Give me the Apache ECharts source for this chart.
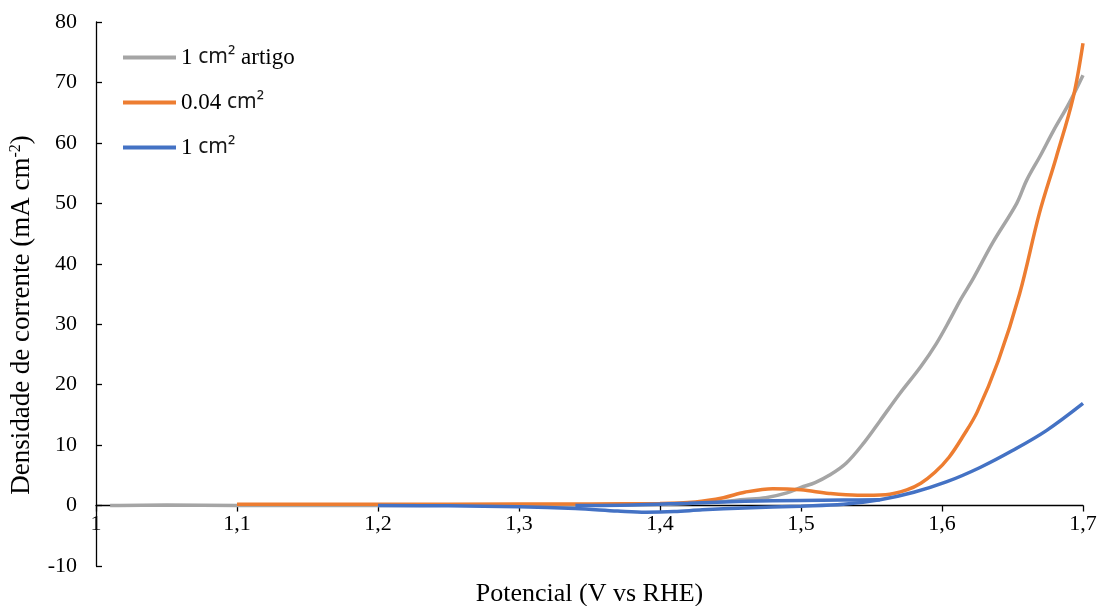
<!DOCTYPE html>
<html>
<head>
<meta charset="utf-8">
<script src="https://cdn.jsdelivr.net/npm/echarts@6/dist/echarts.min.js"></script>
<style>
  html, body { margin: 0; padding: 0; background: #ffffff; }
  #chart { width: 1100px; height: 606px; }
</style>
</head>
<body>
<div id="chart"></div>
<script>
// Polarization curves: current density (mA cm-2) vs potential (V vs RHE)
const seriesNames = ['1 cm² artigo', '0.04 cm²', '1 cm²'];

// [potential, current density]
const artigo = [
  [1.01, 0], [1.05, 0.1], [1.1, 0], [1.2, 0], [1.3, 0.1], [1.4, 0.2],
  [1.44, 0.6], [1.46, 1.0], [1.475, 1.3], [1.49, 2.1], [1.5, 3.0],
  [1.51, 3.8], [1.52, 5.0], [1.532, 7.0], [1.545, 10.5], [1.556, 14],
  [1.57, 18.5], [1.585, 23], [1.596, 26.8], [1.605, 30.5], [1.613, 34],
  [1.622, 37.5], [1.636, 43.5], [1.653, 50], [1.66, 53.8], [1.67, 58],
  [1.679, 62], [1.69, 66.5], [1.7, 71.2]
];

const small = [
  [1.1, 0.2], [1.2, 0.2], [1.3, 0.25], [1.4, 0.35], [1.425, 0.6],
  [1.445, 1.3], [1.46, 2.2], [1.48, 2.8], [1.5, 2.6], [1.52, 2.0],
  [1.54, 1.7], [1.56, 1.8], [1.575, 2.6], [1.585, 3.7], [1.595, 5.5],
  [1.605, 8], [1.615, 11.5], [1.625, 15.5], [1.64, 24], [1.655, 35],
  [1.669, 48.3], [1.681, 57.6], [1.693, 67.5], [1.7, 76.5]
];

// 1 cm² scan: branch with the reduction dip, and the return branch
const largeScan = [
  [1.2, 0], [1.25, -0.05], [1.3, -0.2], [1.34, -0.5], [1.37, -0.9],
  [1.39, -1.1], [1.41, -1.0], [1.43, -0.7], [1.46, -0.4], [1.5, -0.1],
  [1.53, 0.2], [1.556, 0.95], [1.58, 2.2], [1.603, 3.9], [1.627, 6.3],
  [1.65, 9.1], [1.674, 12.4], [1.7, 16.9]
];
const largeReturn = [
  [1.34, 0], [1.38, 0.1], [1.42, 0.4], [1.46, 0.7], [1.5, 0.85],
  [1.53, 0.92], [1.556, 0.95]
];

const xTicks = { min: 1, max: 1.7, step: 0.1 };
const yTicks = { min: -10, max: 80, step: 10 };

const colors = ['#A5A5A5', '#ED7D31', '#4472C4'];
const serif = '"Liberation Serif", "Times New Roman", serif';
const sans = '"Noto Sans", "Liberation Sans", sans-serif';

const W = 1100, H = 606;
const gridBox = { left: 96, right: 17, top: 22, bottom: 40 };
// the horizontal axis sits on y = 0: lift it from the grid bottom by the height of the negative range
const plotH = H - gridBox.top - gridBox.bottom;
const zeroLift = plotH * (0 - yTicks.min) / (yTicks.max - yTicks.min);

const chart = echarts.init(document.getElementById('chart'), null, { renderer: 'canvas' });

function lineSeries(name, data, color) {
  return {
    name: name,
    type: 'line',
    data: data,
    smooth: 0.35,
    symbol: 'none',
    lineStyle: { width: 3.5, color: color },
    itemStyle: { color: color },
    animation: false
  };
}

chart.setOption({
  animation: false,
  backgroundColor: '#ffffff',
  grid: Object.assign({ containLabel: false, outerBoundsMode: 'none' }, gridBox),
  legend: {
    data: seriesNames,
    orient: 'vertical',
    left: 118,
    top: 41,
    icon: 'rect',
    itemWidth: 53,
    itemHeight: 4,
    itemGap: 22,
    textStyle: {
      fontFamily: serif,
      fontSize: 23,
      color: '#000',
      rich: {
        s: { fontFamily: sans, fontSize: 21, color: '#1a1a1a' },
        t: { fontFamily: serif, fontSize: 23, color: '#000' }
      }
    },
    formatter: function (name) {
      const parts = name.split('cm²');
      return '{t|' + parts[0] + '}{s|cm²}' + (parts[1] ? '{t|' + parts[1] + '}' : '');
    }
  },
  xAxis: {
    type: 'value',
    position: 'bottom',
    offset: -zeroLift,
    min: xTicks.min,
    max: xTicks.max,
    interval: xTicks.step,
    name: 'Potencial (V vs RHE)',
    nameLocation: 'middle',
    nameGap: 76,
    nameTextStyle: { fontFamily: serif, fontSize: 26, color: '#000' },
    axisLine: { onZero: false, lineStyle: { color: '#000', width: 1.3 } },
    axisTick: { show: true, inside: false, length: 6, lineStyle: { color: '#000', width: 1.3 } },
    axisLabel: {
      fontFamily: serif,
      fontSize: 22,
      color: '#000',
      margin: 8,
      formatter: function (v) {
        const r = Math.round(v * 10) / 10;
        return Number.isInteger(r) ? String(r) : r.toFixed(1).replace('.', ',');
      }
    },
    splitLine: { show: false }
  },
  yAxis: {
    type: 'value',
    min: yTicks.min,
    max: yTicks.max,
    interval: yTicks.step,
    name: '{t|Densidade de corrente (mA cm}{sup|-2}{t|)}',
    nameLocation: 'middle',
    nameGap: 60,
    nameTextStyle: {
      padding: [0, 42, 0, 0],
      rich: {
        t: { fontFamily: serif, fontSize: 27, color: '#000' },
        sup: { fontFamily: serif, fontSize: 16, color: '#000', verticalAlign: 'top', padding: [0, 0, 12, 0] }
      }
    },
    axisLine: { show: true, onZero: false, lineStyle: { color: '#000', width: 1.3 } },
    axisTick: { show: true, inside: true, length: 6, lineStyle: { color: '#000', width: 1.3 } },
    axisLabel: { fontFamily: serif, fontSize: 22, color: '#000', margin: 19 },
    splitLine: { show: false }
  },
  series: [
    lineSeries(seriesNames[0], artigo, colors[0]),
    lineSeries(seriesNames[1], small, colors[1]),
    lineSeries(seriesNames[2], largeScan, colors[2]),
    lineSeries(seriesNames[2], largeReturn, colors[2])
  ]
});
</script>
</body>
</html>
